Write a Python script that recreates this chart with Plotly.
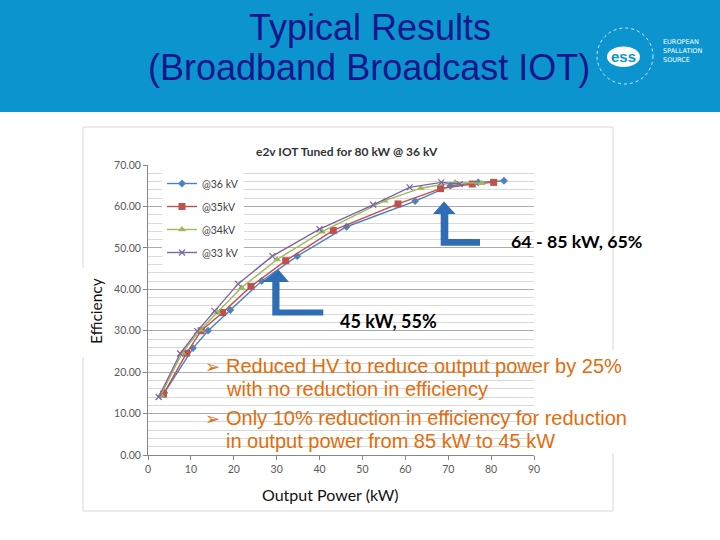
import plotly.graph_objects as go

# ---------------- data ----------------
power_36kv = [3.8, 10.5, 14.0, 19.2, 26.5, 34.8, 46.3, 62.3, 70.5, 77.0, 83.0]
eff_36kv = [15.0, 25.8, 30.0, 35.0, 42.0, 48.0, 55.1, 61.3, 65.0, 65.8, 66.2]

power_35kv = [3.6, 9.0, 12.4, 17.4, 24.0, 32.1, 43.2, 58.3, 68.2, 75.6, 80.6]
eff_35kv = [14.7, 24.6, 30.0, 34.4, 40.7, 46.9, 54.2, 60.6, 64.3, 65.4, 65.8]

power_34kv = [3.0, 8.0, 12.2, 16.2, 21.8, 30.1, 40.6, 55.2, 63.6, 71.6, 77.8]
eff_34kv = [14.5, 24.7, 30.2, 34.4, 40.4, 47.2, 53.9, 61.4, 64.4, 65.8, 65.6]

power_33kv = [2.5, 7.5, 11.5, 15.5, 21.0, 29.0, 40.0, 52.5, 61.0, 68.4, 72.7]
eff_33kv = [14.0, 24.5, 29.9, 34.8, 41.3, 48.0, 54.5, 60.4, 64.6, 65.8, 65.4]

series_names = ["@36 kV", "@35kV", "@34kV", "@33 kV"]
series_x = [power_36kv, power_35kv, power_34kv, power_33kv]
series_y = [eff_36kv, eff_35kv, eff_34kv, eff_33kv]

x_tick_values = [0, 10, 20, 30, 40, 50, 60, 70, 80, 90]
y_tick_values = [0, 10, 20, 30, 40, 50, 60, 70]

# ---------------- styles ----------------
colors = ["#4F81BD", "#C0504D", "#9BBB59", "#8064A2"]
symbols = ["diamond", "square", "triangle-up", "x-thin"]
sizes = [6, 7, 7, 6]

W, H = 720, 540


def px(x):
    return x / W


def py(y):
    return 1 - y / H


fig = go.Figure()
for i in range(4):
    marker = dict(symbol=symbols[i], size=sizes[i], color=colors[i])
    if symbols[i] == "x-thin":
        marker["line"] = dict(color=colors[i], width=1.2)
    fig.add_trace(go.Scatter(
        x=series_x[i], y=series_y[i], name=series_names[i],
        mode="lines+markers", line=dict(color=colors[i], width=1.4),
        marker=marker, legendgroup=f"g{i}"))

tick_font = dict(family="Lato, Liberation Sans, sans-serif", size=10.5, color="#595959")

fig.update_layout(
    template="none",
    width=W, height=H, autosize=False,
    margin=dict(l=0, r=0, t=0, b=0, pad=0, autoexpand=False),
    paper_bgcolor="white", plot_bgcolor="rgba(0,0,0,0)",
    xaxis=dict(domain=[px(148), px(534)], range=[0, 90], tickvals=x_tick_values,
               automargin=False,
               showgrid=False, zeroline=False, showline=True, linecolor="#868686",
               ticks="outside", ticklen=4, tickcolor="#868686", tickfont=tick_font),
    yaxis=dict(domain=[py(455), py(165)], range=[0, 70], tickvals=y_tick_values,
               automargin=False,
               tickformat=".2f", showgrid=True, gridcolor="#ABABAB", gridwidth=1,
               zeroline=False, showline=True, linecolor="#868686",
               ticks="outside", ticklen=4, tickcolor="#868686", tickfont=tick_font),
    showlegend=True,
    legend=dict(x=px(162), y=py(169), xanchor="left", yanchor="top",
                bgcolor="white", borderwidth=0,
                font=dict(family="Lato, sans-serif", size=10.5, color="#404040"),
                tracegroupgap=4, itemwidth=30),
)
fig.update_yaxes(minor=dict(dtick=2, showgrid=True, gridcolor="#D9D9D9", gridwidth=1))

shapes = []
# header band
shapes.append(dict(type="rect", xref="paper", yref="paper", x0=0, x1=1, y0=py(112), y1=1,
                   fillcolor="#0B94CE", line=dict(width=0), layer="below"))
# chart border
shapes.append(dict(type="rect", xref="paper", yref="paper", x0=px(83), x1=px(613),
                   y0=py(511), y1=py(127), line=dict(color="#D9D9D9", width=1),
                   fillcolor="rgba(0,0,0,0)", layer="below"))
# white boxes over grid (legend area, bullet text box)
shapes.append(dict(type="rect", xref="paper", yref="paper", x0=px(150), x1=px(262),
                   y0=py(266), y1=py(160), fillcolor="white", line=dict(width=0),
                   layer="between"))
shapes.append(dict(type="rect", xref="paper", yref="paper", x0=px(190), x1=px(616),
                   y0=py(453), y1=py(350), fillcolor="white", line=dict(width=0),
                   layer="between"))
# white box behind "Efficiency"
shapes.append(dict(type="rect", xref="paper", yref="paper", x0=px(78), x1=px(110),
                   y0=py(357), y1=py(268), fillcolor="white", line=dict(width=0),
                   layer="above"))


def poly(points):
    d = "M " + " L ".join(f"{px(a):.5f},{py(b):.5f}" for a, b in points) + " Z"
    return d


arrow_color = "#2F6DB5"
arrow1 = [(444, 201.5), (455.5, 214), (448.3, 214), (448.3, 239), (480, 239),
          (480, 245.7), (440.7, 245.7), (440.7, 214), (433, 214)]
arrow2 = [(278.3, 269.5), (289, 282), (279.5, 282), (279.5, 309.5), (323.3, 309.5),
          (323.3, 315.5), (272.3, 315.5), (272.3, 282), (262, 282)]
for a in (arrow1, arrow2):
    shapes.append(dict(type="path", xref="paper", yref="paper", path=poly(a),
                       fillcolor=arrow_color, line=dict(width=0), layer="above"))

# logo
shapes.append(dict(type="circle", xref="paper", yref="paper", x0=px(597), x1=px(653),
                   y0=py(84), y1=py(28), line=dict(color="rgba(255,255,255,0.8)", width=1, dash="dot"),
                   layer="above"))
shapes.append(dict(type="circle", xref="paper", yref="paper", x0=px(607), x1=px(640),
                   y0=py(67), y1=py(46.5), fillcolor="white", line=dict(width=0), layer="above"))
fig.update_layout(shapes=shapes)

ann = []


def text(x, y, s, size, color, family, xanchor="center", **kw):
    ann.append(dict(x=px(x), y=py(y), xref="paper", yref="paper", text=s, showarrow=False,
                    xanchor=xanchor, yanchor="middle",
                    font=dict(size=size, color=color, family=family), **kw))


title_font = "Liberation Sans, Arial, sans-serif"
text(370, 27, "Typical Results", 36, "#14168A", title_font)
text(369, 67, "(Broadband Broadcast IOT)", 36, "#14168A", title_font)

text(623.5, 56.5, "<b>ess</b>", 15, "#0B94CE", "Liberation Sans, Arial")
text(661, 42, "EUROPEAN", 6.5, "white", "DejaVu Sans", xanchor="left")
text(661, 51, "SPALLATION", 6.5, "white", "DejaVu Sans", xanchor="left")
text(661, 60, "SOURCE", 6.5, "white", "DejaVu Sans", xanchor="left")

text(347, 152, "<b>e2v IOT Tuned for 80 kW @ 36 kV</b>", 12, "#333333", "Lato, sans-serif")
text(96, 311, "Efficiency", 15.5, "#111111", "Lato, sans-serif", textangle=-90)
text(330, 494, "Output Power (kW)", 16, "#111111", "Lato, sans-serif")

text(509, 241, "<b>64 - 85 kW, 65%</b>", 17.8, "black", "Lato, sans-serif", xanchor="left")
text(338, 321, "<b>45 kW, 55%</b>", 18, "black", "Lato, sans-serif", xanchor="left")

orange = "#E46C0A"
text(203, 366, "➢", 18, orange, "DejaVu Sans", xanchor="left")
text(224, 366, "Reduced HV to reduce output power by 25%", 20, orange, title_font, xanchor="left")
text(224, 389, "with no reduction in efficiency", 20, orange, title_font, xanchor="left")
text(203, 418, "➢", 18, orange, "DejaVu Sans", xanchor="left")
text(224, 418, "Only 10% reduction in efficiency for reduction", 20, orange, title_font, xanchor="left")
text(224, 441, "in output power from 85 kW to 45 kW", 20, orange, title_font, xanchor="left")

fig.update_layout(annotations=ann)
fig.write_html("out.html", config={"displayModeBar": False},
               post_script="document.body.style.margin='0px';")
